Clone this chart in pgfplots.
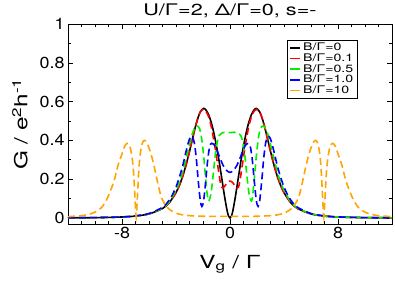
\documentclass[border=0pt]{standalone}
\usepackage{fontspec}
\setmainfont{TeX Gyre Heros}
\newfontfamily\wide{TeX Gyre Heros}[FakeStretch=1.35]
\newfontfamily\tickf{TeX Gyre Heros}[FakeStretch=1.12]
\usepackage{pgfplots}
\usepackage{pgfplotstable}
\pgfplotsset{compat=1.18}
\definecolor{gorange}{RGB}{255,165,0}
\definecolor{ggreen}{RGB}{0,240,0}
\definecolor{gred}{RGB}{255,0,0}
\definecolor{gblue}{RGB}{0,0,255}

\pgfplotstableread{
x y
-12 0.0008
-10 0.0018
-8 0.0052
-7 0.010
-6 0.021
-5 0.049
-4.5 0.079
-4 0.131
-3.7 0.177
-3.45 0.227
-3.2 0.288
-2.95 0.358
-2.7 0.432
-2.45 0.499
-2.2 0.547
-1.95 0.565
-1.8 0.558
-1.6 0.535
-1.4 0.495
-1.2 0.44
-1.0 0.37
-0.9 0.33
-0.8 0.29
-0.7 0.245
-0.6 0.2
-0.5 0.155
-0.4 0.11
-0.3 0.07
-0.2 0.033
-0.1 0.009
0 0
0.1 0.009
0.2 0.033
0.3 0.07
0.4 0.11
0.5 0.155
0.6 0.2
0.7 0.245
0.8 0.29
0.9 0.33
1.0 0.37
1.2 0.44
1.4 0.495
1.6 0.535
1.8 0.558
1.95 0.565
2.2 0.547
2.45 0.499
2.7 0.432
2.95 0.358
3.2 0.288
3.45 0.227
3.7 0.177
4 0.131
4.5 0.079
5 0.049
6 0.021
7 0.010
8 0.0052
10 0.0018
12 0.0008
}\tblack

\pgfplotstableread{
x y
-12 0.0008
-10 0.0018
-8 0.0052
-7 0.010
-6 0.021
-5 0.049
-4.5 0.079
-4 0.131
-3.7 0.177
-3.45 0.227
-3.2 0.288
-2.95 0.358
-2.7 0.432
-2.45 0.499
-2.2 0.547
-1.97 0.56
-1.8 0.552
-1.6 0.525
-1.4 0.475
-1.25 0.42
-1.1 0.36
-0.95 0.29
-0.82 0.23
-0.72 0.185
-0.62 0.158
-0.52 0.155
-0.4 0.163
-0.25 0.178
-0.12 0.188
0 0.19
0.12 0.188
0.25 0.178
0.4 0.163
0.52 0.155
0.62 0.158
0.72 0.185
0.82 0.23
0.95 0.29
1.1 0.36
1.25 0.42
1.4 0.475
1.6 0.525
1.8 0.552
1.97 0.56
2.2 0.547
2.45 0.499
2.7 0.432
2.95 0.358
3.2 0.288
3.45 0.227
3.7 0.177
4 0.131
4.5 0.079
5 0.049
6 0.021
7 0.010
8 0.0052
10 0.0018
12 0.0008
}\tred

\pgfplotstableread{
x y
-12 0.0008
-10 0.0018
-8 0.0053
-7 0.010
-6 0.022
-5 0.051
-4.5 0.083
-4.2 0.118
-3.9 0.158
-3.6 0.215
-3.35 0.28
-3.1 0.35
-2.85 0.42
-2.65 0.46
-2.45 0.475
-2.25 0.46
-2.1 0.41
-1.95 0.32
-1.8 0.2
-1.65 0.1
-1.55 0.09
-1.4 0.13
-1.25 0.22
-1.1 0.32
-0.95 0.39
-0.8 0.425
-0.6 0.438
-0.3 0.442
0 0.44
0.3 0.442
0.6 0.438
0.8 0.425
0.95 0.39
1.1 0.32
1.25 0.22
1.4 0.13
1.55 0.09
1.65 0.1
1.8 0.2
1.95 0.32
2.1 0.41
2.25 0.46
2.45 0.475
2.65 0.46
2.85 0.42
3.1 0.35
3.35 0.28
3.6 0.215
3.9 0.158
4.2 0.118
4.5 0.083
5 0.051
6 0.022
7 0.010
8 0.0053
10 0.0018
12 0.0008
}\tgreen

\pgfplotstableread{
x y
-12 0.0008
-10 0.0019
-8 0.0055
-7 0.011
-6 0.023
-5 0.055
-4.6 0.083
-4.3 0.115
-4.0 0.16
-3.75 0.21
-3.5 0.27
-3.3 0.33
-3.1 0.385
-2.95 0.415
-2.8 0.42
-2.65 0.39
-2.5 0.31
-2.35 0.19
-2.2 0.09
-2.08 0.06
-1.95 0.09
-1.8 0.19
-1.65 0.3
-1.5 0.37
-1.35 0.385
-1.2 0.38
-1.0 0.355
-0.75 0.31
-0.5 0.27
-0.25 0.245
0 0.235
0.25 0.245
0.5 0.27
0.75 0.31
1.0 0.355
1.2 0.38
1.35 0.385
1.5 0.37
1.65 0.3
1.8 0.19
1.95 0.09
2.08 0.06
2.2 0.09
2.35 0.19
2.5 0.31
2.65 0.39
2.8 0.42
2.95 0.415
3.1 0.385
3.3 0.33
3.5 0.27
3.75 0.21
4.0 0.16
4.3 0.115
4.6 0.083
5 0.055
6 0.023
7 0.011
8 0.0055
10 0.0019
12 0.0008
}\tblue

\pgfplotstableread{
x y
-12 0.007
-11 0.012
-10.5 0.018
-10 0.03
-9.5 0.055
-9.1 0.1
-8.8 0.15
-8.55 0.2
-8.3 0.27
-8.0 0.33
-7.8 0.37
-7.6 0.385
-7.4 0.365
-7.25 0.31
-7.15 0.24
-7.08 0.16
-7.02 0.08
-6.95 0.005
-6.88 0.08
-6.82 0.16
-6.75 0.25
-6.65 0.33
-6.5 0.385
-6.35 0.40
-6.2 0.392
-6.05 0.37
-5.85 0.33
-5.6 0.26
-5.35 0.18
-5.1 0.11
-4.85 0.075
-4.5 0.045
-4.0 0.025
-3.5 0.016
-3 0.012
-2 0.009
-1 0.008
0 0.008
1 0.008
2 0.009
3 0.012
3.5 0.016
4.0 0.025
4.5 0.045
4.85 0.075
5.1 0.11
5.35 0.18
5.6 0.26
5.85 0.33
6.05 0.37
6.2 0.392
6.35 0.40
6.5 0.385
6.65 0.33
6.75 0.25
6.82 0.16
6.88 0.08
6.95 0.005
7.02 0.08
7.08 0.16
7.15 0.24
7.25 0.31
7.4 0.365
7.6 0.385
7.8 0.37
8.0 0.33
8.3 0.27
8.55 0.2
8.8 0.15
9.1 0.1
9.5 0.055
10 0.03
10.5 0.018
11 0.012
12 0.007
}\torange

\begin{document}
\begin{tikzpicture}
\begin{axis}[
  scale only axis, width=324pt, height=200pt,
  xmin=-12, xmax=12, ymin=-0.031, ymax=1,
  xtick={-8,0,8}, minor xtick={-12,-11,...,12},
  ytick={0,0.2,0.4,0.6,0.8,1}, minor ytick={0.1,0.3,0.5,0.7,0.9},
  tick align=inside,
  major tick length=5pt, minor tick length=3pt,
  tick style={black, line width=0.6pt},
  axis line style={black, line width=0.8pt},
  /pgf/number format/assume math mode=true,
  ticklabel style={font=\fontsize{16}{18}\selectfont\tickf},
  xlabel={V\textsubscript{g} / Γ},
  ylabel={G / e\textsuperscript{2}h\textsuperscript{-1}},
  label style={font=\fontsize{18}{20}\selectfont\wide},
  xlabel style={at={(axis description cs:0.5,-0.22)}, anchor=base, inner sep=0pt},
  ylabel style={at={(axis description cs:-0.148,0.5)}, anchor=center},
  legend style={at={(0.895,0.92)}, anchor=north east, draw=black, line width=0.5pt,
     font=\fontsize{10.5}{10.5}\selectfont\wide, row sep=-2.5pt, inner xsep=2.5pt, inner ysep=1pt},
  legend cell align=left,
  legend image code/.code={\draw[#1, solid, line width=1.5pt] (0pt,0pt) -- (10pt,0pt);},
  every axis plot/.append style={line width=1.6pt, smooth, tension=0.5},
]
\addplot[black] table {\tblack};
\addlegendentry{B/Γ=0}
\addplot[gred, dash pattern=on 7pt off 4pt] table {\tred};
\addlegendentry{B/Γ=0.1}
\addplot[ggreen, dash pattern=on 7pt off 4pt] table {\tgreen};
\addlegendentry{B/Γ=0.5}
\addplot[gblue, dash pattern=on 7pt off 4pt] table {\tblue};
\addlegendentry{B/Γ=1.0}
\addplot[gorange, dash pattern=on 7pt off 4pt] table {\torange};
\addlegendentry{B/Γ=10}
\end{axis}
\node[font=\fontsize{16}{18}\selectfont\wide, anchor=base, inner sep=0pt]
  at ([yshift=9pt]current axis.north) {U/Γ=2, Δ/Γ=0, s=-};
\pgfresetboundingbox
\path (current axis.south west) ++(-68pt,-60pt) rectangle ++(395pt,284pt);
\end{tikzpicture}
\end{document}
